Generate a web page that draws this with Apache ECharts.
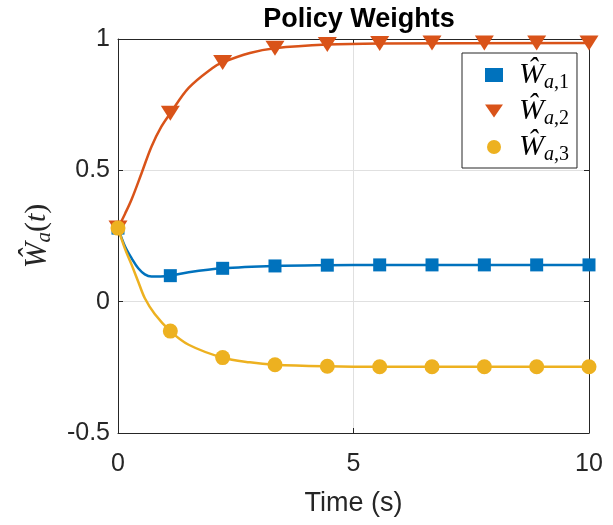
<!DOCTYPE html>
<html>
<head>
<meta charset="utf-8">
<script src="https://cdn.jsdelivr.net/npm/echarts@6/dist/echarts.min.js"></script>
<style>html,body{margin:0;padding:0;background:#fff}#c{width:613px;height:525px}</style>
</head>
<body>
<div id="c"></div>
<script>
// ---- data ----
const seriesNames = ['Ŵa,1', 'Ŵa,2', 'Ŵa,3'];
const xTicks = [0, 5, 10];
const yTicks = [-0.5, 0, 0.5, 1];

// continuous curves (time, value)
const tBlue = [0, 0.15, 0.29, 0.43, 0.57, 0.71, 0.9, 1.11, 1.5, 2.22, 3.33, 4.44, 5.56, 10];
const vBlue = [0.28, 0.21, 0.165, 0.127, 0.104, 0.096, 0.096, 0.099, 0.112, 0.127, 0.136, 0.139, 0.14, 0.14];
const tOrange = [0, 0.15, 0.29, 0.5, 0.71, 0.92, 1.11, 1.5, 2.0, 2.22, 2.8, 3.33, 4.44, 5.56, 10];
const vOrange = [0.28, 0.335, 0.39, 0.489, 0.59, 0.666, 0.717, 0.814, 0.889, 0.911, 0.947, 0.965, 0.979, 0.983, 0.985];
const tYellow = [0, 0.145, 0.29, 0.43, 0.57, 0.78, 1.11, 1.5, 2.22, 2.8, 3.33, 4.44, 5.56, 10];
const vYellow = [0.28, 0.203, 0.14, 0.076, 0.013, -0.047, -0.112, -0.164, -0.213, -0.231, -0.240, -0.246, -0.248, -0.248];

// marker positions
const tMarks = [0, 1.111, 2.222, 3.333, 4.444, 5.556, 6.667, 7.778, 8.889, 10];
const mBlue = [0.28, 0.099, 0.127, 0.136, 0.139, 0.14, 0.14, 0.14, 0.14, 0.14];
const mOrange = [0.28, 0.717, 0.911, 0.965, 0.979, 0.983, 0.985, 0.985, 0.985, 0.985];
const mYellow = [0.28, -0.112, -0.213, -0.240, -0.246, -0.248, -0.248, -0.248, -0.248, -0.248];

const colors = ['#0072BD', '#D95319', '#EDB120'];
const TRI = 'path://M0,0L18,0L9,13Z';
const symbols = ['rect', TRI, 'circle'];
const symbolSizes = [13, [19, 15], 15];

const zip = (a, b) => a.map((x, i) => [x, b[i]]);
const lines = [zip(tBlue, vBlue), zip(tOrange, vOrange), zip(tYellow, vYellow)];
const marks = [zip(tMarks, mBlue), zip(tMarks, mOrange), zip(tMarks, mYellow)];

const axisColor = '#262626';
const sans = 'Liberation Sans, Arial, Helvetica, sans-serif';
const serif = 'Liberation Serif, Times New Roman, serif';

const series = [];
for (let i = 0; i < 3; i++) {
  series.push({
    type: 'line', name: seriesNames[i] + ' line', data: lines[i],
    smooth: 0.35, showSymbol: false, symbol: 'none',
    lineStyle: { color: colors[i], width: 2.5 }, clip: false, silent: true,
    z: 2 + 2 * i, animation: false
  });
  series.push({
    type: 'scatter', name: seriesNames[i], data: marks[i],
    symbol: symbols[i], symbolSize: symbolSizes[i],
    itemStyle: { color: colors[i], opacity: 1 }, clip: false,
    z: 3 + 2 * i, animation: false
  });
}

const chart = echarts.init(document.getElementById('c'), null, { renderer: 'canvas' });
chart.setOption({
  animation: false,
  backgroundColor: '#fff',
  title: {
    text: 'Policy Weights', left: 354, top: 1, textAlign: 'center',
    textStyle: { fontFamily: sans, fontWeight: 'bold', fontSize: 27, color: '#000' }
  },
  grid: { left: 118, right: 24, top: 39, bottom: 92, containLabel: false },
  legend: {
    orient: 'vertical', left: 462, top: 53,
    data: seriesNames.map((n, i) => ({ name: n, icon: symbols[i], itemStyle: { color: colors[i] } })),
    itemWidth: 18, itemHeight: 14, itemGap: 0,
    padding: [4, 8, 3, 23],
    borderColor: axisColor, borderWidth: 1, backgroundColor: '#fff',
    formatter: function (name) {
      const idx = seriesNames.indexOf(name) + 1;
      return '{w|Ŵ}{a|a}{n|,' + idx + '}';
    },
    textStyle: {
      lineHeight: 35,
      rich: {
        w: { fontFamily: serif, fontStyle: 'italic', fontSize: 30, color: '#000', lineHeight: 35, padding: [0, 0, 0, 11] },
        a: { fontFamily: serif, fontStyle: 'italic', fontSize: 20, color: '#000', lineHeight: 35, padding: [16, 0, 0, 0] },
        n: { fontFamily: serif, fontSize: 20, color: '#000', lineHeight: 35, padding: [16, 0, 0, 0] }
      }
    }
  },
  xAxis: [{
    type: 'value', min: 0, max: 10, interval: 5, position: 'bottom',
    name: 'Time (s)', nameLocation: 'middle', nameGap: 57,
    nameTextStyle: { fontFamily: sans, fontSize: 27, color: axisColor },
    axisLine: { show: true, onZero: false, lineStyle: { color: axisColor, width: 1 } },
    axisTick: { show: true, inside: true, length: 5, lineStyle: { color: axisColor } },
    axisLabel: { margin: 19, fontFamily: sans, fontSize: 25, color: axisColor,
      formatter: v => xTicks.includes(v) ? String(v) : '' },
    splitLine: { show: true, lineStyle: { color: '#e0e0e0', width: 1 } }
  }, {
    type: 'value', min: 0, max: 10, interval: 5, position: 'top',
    axisLine: { show: true, onZero: false, lineStyle: { color: axisColor, width: 1 } },
    axisTick: { show: true, inside: true, length: 5, lineStyle: { color: axisColor } },
    axisLabel: { show: false }, splitLine: { show: false }
  }],
  yAxis: [{
    type: 'value', min: -0.5, max: 1, interval: 0.5, position: 'left',
    name: '{w|Ŵ}{a|a}{p|(}{t|t}{p|)}', nameLocation: 'middle', nameRotate: 90, nameGap: 63,
    nameTextStyle: {
      rich: {
        w: { fontFamily: serif, fontStyle: 'italic', fontSize: 31, color: axisColor },
        a: { fontFamily: serif, fontStyle: 'italic', fontSize: 21, color: axisColor, padding: [14, 0, 0, 0] },
        p: { fontFamily: serif, fontSize: 30, color: axisColor },
        t: { fontFamily: serif, fontStyle: 'italic', fontSize: 30, color: axisColor }
      }
    },
    axisLine: { show: true, onZero: false, lineStyle: { color: axisColor, width: 1 } },
    axisTick: { show: true, inside: true, length: 5, lineStyle: { color: axisColor } },
    axisLabel: { margin: 8, fontFamily: sans, fontSize: 25, color: axisColor,
      formatter: v => yTicks.includes(v) ? String(v) : '' },
    splitLine: { show: true, lineStyle: { color: '#e0e0e0', width: 1 } }
  }, {
    type: 'value', min: -0.5, max: 1, interval: 0.5, position: 'right',
    axisLine: { show: true, onZero: false, lineStyle: { color: axisColor, width: 1 } },
    axisTick: { show: true, inside: true, length: 5, lineStyle: { color: axisColor } },
    axisLabel: { show: false }, splitLine: { show: false }
  }],
  series: series
});
</script>
</body>
</html>
